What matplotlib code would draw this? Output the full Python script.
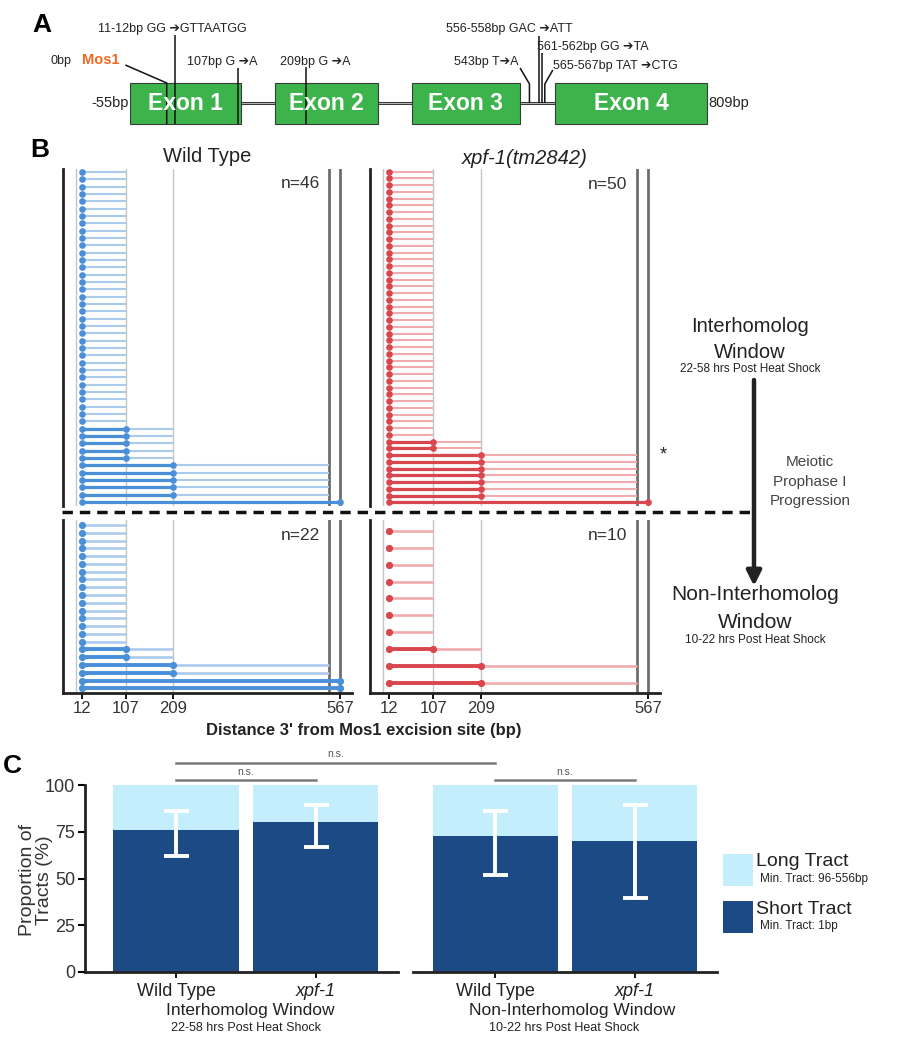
import matplotlib
matplotlib.use("Agg")
import matplotlib.pyplot as plt
from matplotlib.patches import Rectangle, FancyArrowPatch
import numpy as np

plt.rcParams['font.family'] = ['Liberation Sans', 'DejaVu Sans']

W, H = 911, 1050

# ------------------------------------------------------------------ data
# Panel A: gene model (bp)
exon_names = ["Exon 1", "Exon 2", "Exon 3", "Exon 4"]
exon_starts = [-55, 162, 367, 581]
exon_ends = [111, 316, 529, 809]
gene_start_label = "-55bp"
gene_end_label = "809bp"
mos1_position = 0
mut_positions = [12, 107, 209, 543, 557, 561.5, 566]
mut_labels = ["11-12bp GG \u2794GTTAATGG", "107bp G \u2794A", "209bp G \u2794A",
              "543bp T\u2794A", "556-558bp GAC \u2794ATT", "561-562bp GG \u2794TA",
              "565-567bp TAT \u2794CTG"]

# Panel B: conversion tracts
guide_light_bp = [0, 107, 209]
guide_dark_bp = [543, 567]
tick_bp = [12, 107, 209, 567]
tract_min = [12, 107, 209, 567]     # minimal tract end (dot)
tract_max = [107, 209, 543, 567]    # maximal tract end
wt_ih_counts = [35, 5, 5, 1]
xpf_ih_counts = [40, 2, 7, 1]
wt_nih_counts = [16, 2, 2, 2]
xpf_nih_counts = [7, 1, 2, 0]

# Panel C: proportions
genotypes = ["Wild Type", "xpf-1"]
short_ih = [76.1, 80.0]
short_nih = [72.7, 70.0]
ci_low_ih = [62.0, 67.0]
ci_high_ih = [86.3, 89.3]
ci_low_nih = [51.8, 39.7]
ci_high_nih = [86.3, 89.3]

# ------------------------------------------------------------------ figure
fig = plt.figure(figsize=(W / 100, H / 100), dpi=100)


def px_axes(x0, y0, x1, y1):
    return fig.add_axes([x0 / W, 1 - y1 / H, (x1 - x0) / W, (y1 - y0) / H])


# ------------------------------------------------------------------ Panel A
ax_a = px_axes(0, 0, 911, 140)
ax_a.set_xlim(-249.6, 1114.2)
ax_a.set_ylim(140, 0)
ax_a.axis('off')

for i in range(len(exon_starts) - 1):
    ax_a.plot([exon_ends[i], exon_starts[i + 1]], [103, 103], color='#3a3a3a',
              lw=2.2, solid_capstyle='butt', zorder=1)
    ax_a.plot([exon_ends[i], exon_starts[i + 1]], [103, 103], color='#b8b8b8',
              lw=0.7, solid_capstyle='butt', zorder=1.1)
for s, e, name in zip(exon_starts, exon_ends, exon_names):
    ax_a.add_patch(Rectangle((s, 83), e - s, 40.5, facecolor='#3cb44b',
                             edgecolor='#3a3a3a', lw=0.8, zorder=2))
    ax_a.text((s + e) / 2, 104, name, color='white', fontsize=16.5,
              fontweight='bold', ha='center', va='center', zorder=4)
ax_a.text(exon_starts[0] - 2.5, 103, gene_start_label, fontsize=10.5,
          ha='right', va='center', color='#222')
ax_a.text(exon_ends[-1] + 2, 103, gene_end_label, fontsize=10.5,
          ha='left', va='center', color='#222')

lk = dict(color='#111', lw=1.1, zorder=3, solid_capstyle='butt')
# Mos1 insertion
ax_a.plot([mos1_position, mos1_position, -62], [124, 83, 65], **lk)
ax_a.text(-127, 60, "Mos1", color='#f26a21', fontsize=10.5, fontweight='bold',
          ha='left', va='center')
ax_a.text(-142, 61, "0bp", color='#222', fontsize=9, ha='right', va='center')

# mutations: (line path y, label pos)
mut_line_paths = [
    ([mut_positions[0]] * 2, [124, 35]),
    ([mut_positions[1]] * 2, [124, 68]),
    ([mut_positions[2]] * 2, [124, 67]),
    ([mut_positions[3], mut_positions[3], 529], [103, 84, 68]),
    ([mut_positions[4]] * 2, [103, 36]),
    ([mut_positions[5]] * 2, [103, 53]),
    ([mut_positions[6], mut_positions[6], 578], [103, 84, 70]),
]
mut_label_pos = [(-103, 29, 'left'), (30, 62, 'left'), (170, 62, 'left'),
                 (526, 62, 'right'), (418, 29, 'left'), (555, 47, 'left'),
                 (578, 66, 'left')]
for (xs, ys), lab, (lx, ly, ha) in zip(mut_line_paths, mut_labels, mut_label_pos):
    ax_a.plot(xs, ys, **lk)
    ax_a.text(lx, ly, lab, fontsize=9, ha=ha, va='center', color='#222')

# ------------------------------------------------------------------ Panel B
blue, blue_l = '#4a90d9', '#abcbee'
red, red_l = '#d9474e', '#f1aaad'
XL = (-28, 592)


def draw_tracts(ax, counts, dark, light, bottom):
    mins = np.repeat(tract_min, counts)
    maxs = np.repeat(tract_max, counts)
    n = len(mins)
    rows = np.arange(n)
    for x in guide_light_bp:
        ax.axvline(x, color='#c4c4c4', lw=1.0, zorder=1)
    for x in guide_dark_bp:
        ax.axvline(x, color='#6e6e6e', lw=2.0, zorder=1)
    lw_l, lw_d, ms = (1.9, 2.8, 5.2) if bottom else (1.5, 2.3, 4.8)
    ax.hlines(rows, 12, maxs, color=light, lw=lw_l, zorder=2)
    m = mins > 12
    ax.hlines(rows[m], 12, mins[m], color=dark, lw=lw_d, zorder=3)
    ax.plot(np.full(n, 12), rows, 'o', color=dark, ms=ms, mec='none', zorder=4)
    ax.plot(mins[m], rows[m], 'o', color=dark, ms=ms, mec='none', zorder=4)
    ax.set_xlim(*XL)
    if bottom:
        ax.set_ylim(n - 1 + 0.6, -0.65)
    else:
        ax.set_ylim(n - 1 + 0.55, -0.4)
    for sp in ['top', 'right']:
        ax.spines[sp].set_visible(False)
    ax.spines['left'].set_linewidth(2.0)
    ax.spines['left'].set_color('#222')
    ax.set_yticks([])
    if bottom:
        ax.spines['bottom'].set_linewidth(2.0)
        ax.spines['bottom'].set_color('#222')
        ax.set_xticks(tick_bp)
        ax.set_xticklabels([str(t) for t in tick_bp], fontsize=12, color='#333')
        ax.tick_params(axis='x', length=4, width=1.3, pad=2)
    else:
        ax.spines['bottom'].set_visible(False)
        ax.set_xticks([])
    return n


ax_b1 = px_axes(63, 169, 352, 506)
ax_b2 = px_axes(370, 169, 660, 506)
ax_b3 = px_axes(63, 520, 352, 693)
ax_b4 = px_axes(370, 520, 660, 693)
n1 = draw_tracts(ax_b1, wt_ih_counts, blue, blue_l, False)
n2 = draw_tracts(ax_b2, xpf_ih_counts, red, red_l, False)
n3 = draw_tracts(ax_b3, wt_nih_counts, blue, blue_l, True)
n4 = draw_tracts(ax_b4, xpf_nih_counts, red, red_l, True)
for ax, n, yy in [(ax_b1, n1, 0.958), (ax_b2, n2, 0.955), (ax_b3, n3, 0.91), (ax_b4, n4, 0.91)]:
    ax.text(0.888, yy, f"n={n}", transform=ax.transAxes, ha='right', va='center',
            fontsize=12.5, color='#333')
# asterisk next to the first long-tract row of xpf-1
first_long_row = xpf_ih_counts[0] + xpf_ih_counts[1]
ax_b2.annotate("*", xy=(1.0, first_long_row), xycoords=('axes fraction', 'data'),
               xytext=(2, 0), textcoords='offset points', ha='center', va='center',
               fontsize=13, color='#222', annotation_clip=False)

# ------------------------------------------------------------------ Panel C
dark_c, light_c = '#1b4a85', '#c4eefc'
ax_c1 = px_axes(85, 785, 398, 972)
ax_c2 = px_axes(413, 785, 717, 972)
xpos = np.arange(len(genotypes))
for ax, sh, lo, hi, xl in [(ax_c1, short_ih, ci_low_ih, ci_high_ih, (-0.652, 1.59)),
                           (ax_c2, short_nih, ci_low_nih, ci_high_nih, (-0.59, 1.59))]:
    sh = np.array(sh)
    ax.bar(xpos, sh, width=0.9, color=dark_c, zorder=2)
    ax.bar(xpos, 100 - sh, bottom=sh, width=0.9, color=light_c, zorder=2)
    ax.errorbar(xpos, sh, yerr=[sh - np.array(lo), np.array(hi) - sh], fmt='none',
                ecolor='white', elinewidth=2.8, capsize=9, capthick=2.8, zorder=3)
    ax.set_xlim(*xl)
    ax.set_ylim(0, 100)
    for sp in ['top', 'right']:
        ax.spines[sp].set_visible(False)
    ax.spines['bottom'].set_linewidth(2.0)
    ax.spines['bottom'].set_color('#222')
    ax.set_xticks(xpos)
    ax.set_xticklabels(genotypes, fontsize=13, color='#222')
    ax.get_xticklabels()[1].set_style('italic')
    ax.tick_params(axis='x', length=4, width=1.3, pad=4)

ax_c1.spines['left'].set_linewidth(2.0)
ax_c1.spines['left'].set_color('#222')
ax_c1.set_yticks([0, 25, 50, 75, 100])
ax_c1.set_yticklabels(['0', '25', '50', '75', '100'], fontsize=13, color='#333')
ax_c1.tick_params(axis='y', length=5, width=1.5, pad=2)
ax_c2.spines['left'].set_visible(False)
ax_c2.set_yticks([])

# ------------------------------------------------------------------ overlay
ax_o = fig.add_axes([0, 0, 1, 1])
ax_o.set_xlim(0, W)
ax_o.set_ylim(H, 0)
ax_o.axis('off')
ax_o.patch.set_alpha(0)

# panel letters
ax_o.text(42, 25, "A", fontsize=19, fontweight='bold', ha='center', va='center')
ax_o.text(40, 150, "B", fontsize=19, fontweight='bold', ha='center', va='center')
ax_o.text(12, 766, "C", fontsize=19, fontweight='bold', ha='center', va='center')

# panel B titles / axis label
ax_o.text(207, 157, "Wild Type", fontsize=14.5, ha='center', va='center', color='#222')
ax_o.text(525, 158, "xpf-1(tm2842)", fontsize=14.5, style='italic', ha='center',
          va='center', color='#222')
ax_o.text(364, 730, "Distance 3' from Mos1 excision site (bp)", fontsize=12,
          fontweight='bold', ha='center', va='center', color='#222')

# dashed divider and arrow
ax_o.plot([62, 754], [512, 512], color='#111', lw=2.5, ls=(0, (3, 2)))
ax_o.add_patch(FancyArrowPatch((754, 380), (754, 586), arrowstyle='-|>',
                               mutation_scale=22, color='#222', lw=3.2,
                               shrinkA=0, shrinkB=0))
ax_o.text(750, 327, "Interhomolog", fontsize=14.5, ha='center', va='center', color='#222')
ax_o.text(750, 353, "Window", fontsize=14.5, ha='center', va='center', color='#222')
ax_o.text(750, 369, "22-58 hrs Post Heat Shock", fontsize=8.5, ha='center',
          va='center', color='#222')
for t, yy in [("Meiotic", 462), ("Prophase I", 482), ("Progression", 501)]:
    ax_o.text(810, yy, t, fontsize=11, ha='center', va='center', color='#444')
ax_o.text(755, 595, "Non-Interhomolog", fontsize=15, ha='center', va='center', color='#222')
ax_o.text(755, 622, "Window", fontsize=15, ha='center', va='center', color='#222')
ax_o.text(755, 640, "10-22 hrs Post Heat Shock", fontsize=8.5, ha='center',
          va='center', color='#222')

# panel C annotations
ax_o.text(36, 880, "Proportion of\nTracts (%)", fontsize=14, rotation=90,
          ha='center', va='center', color='#333', linespacing=1.0)
ax_o.text(250, 1010, "Interhomolog Window", fontsize=12.5, ha='center', va='center', color='#222')
ax_o.text(246, 1028, "22-58 hrs Post Heat Shock", fontsize=9, ha='center', va='center', color='#222')
ax_o.text(572, 1010, "Non-Interhomolog Window", fontsize=12.5, ha='center', va='center', color='#222')
ax_o.text(564, 1028, "10-22 hrs Post Heat Shock", fontsize=9, ha='center', va='center', color='#222')


def to_o(ax, x, y):
    d = ax.transData.transform((x, y))
    return ax_o.transData.inverted().transform(d)


def bracket(axA, xA, axB, xB, y, ty):
    p1 = to_o(axA, xA, y)
    p2 = to_o(axB, xB, y)
    ax_o.plot([p1[0], p2[0]], [p1[1], p2[1]], color='#7a7a7a', lw=1.8)
    tpos = to_o(axA, xA, ty)
    ax_o.text((p1[0] + p2[0]) / 2, tpos[1], "n.s.", fontsize=7.5, ha='center',
              va='center', color='#555')


bracket(ax_c1, 0, ax_c2, 0, 111.8, 116.5)
bracket(ax_c1, 0, ax_c1, 1, 102.7, 106.8)
bracket(ax_c2, 0, ax_c2, 1, 102.7, 106.8)

# legend
ax_o.add_patch(Rectangle((723, 854), 30, 32, facecolor=light_c, edgecolor='none'))
ax_o.add_patch(Rectangle((723, 901), 30, 32, facecolor=dark_c, edgecolor='none'))
ax_o.text(756, 862, "Long Tract", fontsize=14, ha='left', va='center', color='#222')
ax_o.text(760, 879, "Min. Tract: 96-556bp", fontsize=8.5, ha='left', va='center', color='#222')
ax_o.text(756, 909, "Short Tract", fontsize=14, ha='left', va='center', color='#222')
ax_o.text(760, 926, "Min. Tract: 1bp", fontsize=8.5, ha='left', va='center', color='#222')

fig.savefig("out.png", dpi=100)
